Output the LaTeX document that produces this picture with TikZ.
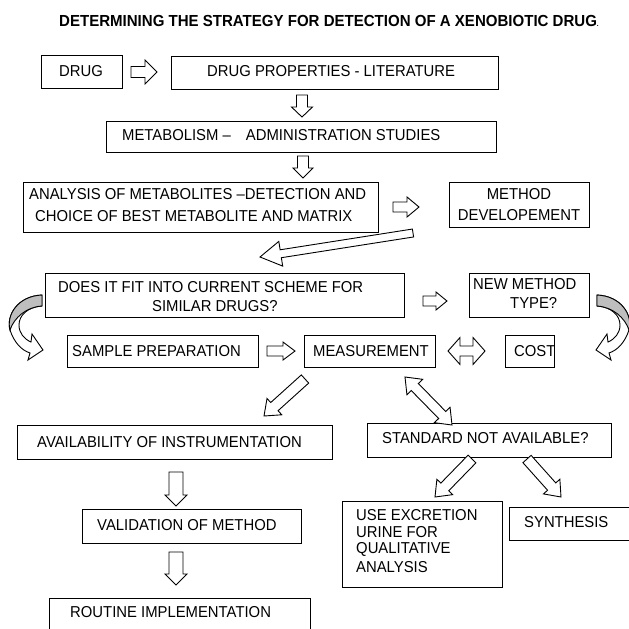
\documentclass[tikz,border=0pt]{standalone}
\usepackage{graphicx}
\usepackage{fontspec}
\setmainfont{Liberation Sans}
\usetikzlibrary{calc,fit}
\definecolor{bandgray}{RGB}{190,190,190}
\newcommand{\T}[1]{\scalebox{0.94}[1]{#1}}
\tikzset{
  box/.style={draw=black, line width=1pt, fill=white, inner sep=0pt, rectangle},
  txt/.style={inner sep=0pt, anchor=west, font=\fontsize{15.8}{18}\selectfont},
  barrow/.style={draw=black, line width=0.9pt, fill=white, line join=miter},
  titletxt/.style={inner sep=0pt, anchor=center, font=\bfseries\fontsize{16}{19}\selectfont},
}
\newcommand{\boxat}[5]{%
  \coordinate (#1-nw) at (#2,#3);
  \coordinate (#1-se) at (#4,#5);
  \node[box, fit=(#1-nw)(#1-se)] (#1) {};}
\newcommand{\blockarrow}[5]{%
  \coordinate (hb) at ($(#2)!#5!(#1)$);
  \draw[barrow] ($(#1)!#3!90:(#2)$) -- ($(hb)!#3!-90:(#1)$) -- ($(hb)!#4!-90:(#1)$) -- (#2)
    -- ($(hb)!#4!90:(#1)$) -- ($(hb)!#3!90:(#1)$) -- ($(#1)!#3!-90:(#2)$) -- cycle;}
\newcommand{\dblarrow}[5]{%
  \coordinate (ha) at ($(#1)!#5!(#2)$);
  \coordinate (hb) at ($(#2)!#5!(#1)$);
  \draw[barrow] (#1) -- ($(ha)!#4!90:(#2)$) -- ($(ha)!#3!90:(#2)$) -- ($(hb)!#3!-90:(#1)$)
    -- ($(hb)!#4!-90:(#1)$) -- (#2) -- ($(hb)!#4!90:(#1)$) -- ($(hb)!#3!90:(#1)$)
    -- ($(ha)!#3!-90:(#2)$) -- ($(ha)!#4!-90:(#2)$) -- cycle;}
\newcommand{\curvedarrow}{%
  \draw[barrow] (42,295) .. controls (18,296) and (6,315) .. (10,330)
     .. controls (14,342) and (21,350) .. (30,353)
     -- (28,360) -- (43,350) -- (32,334) -- (31,342)
     .. controls (24,339) and (19,333) .. (19,325)
     .. controls (19,315) and (28,307) .. (42,306) -- cycle;
  \draw[barrow, fill=bandgray] (42,295) .. controls (18,296) and (6,315) .. (10,330)
     .. controls (14,318) and (26,307) .. (42,306) -- cycle;}
\begin{document}
\begin{tikzpicture}[x=1pt,y=-1pt]
\useasboundingbox (0,0) rectangle (629,629);
\clip (0,0) rectangle (629,629);
\fill[white] (0,0) rectangle (629,629);

\node[titletxt] (title) at (329,21) {\T{DETERMINING THE STRATEGY FOR DETECTION OF A XENOBIOTIC DRUG{\fontsize{7}{7}\selectfont.}}};

% boxes
\boxat{drug}{41}{55}{122}{88}
\boxat{props}{171}{56}{498}{89}
\boxat{metab}{106}{121}{496}{152}
\boxat{analysis}{23}{182}{378}{232}
\boxat{methdev}{449}{182}{589}{227}
\boxat{fits}{45}{273}{404}{317}
\boxat{newmeth}{469}{273}{589}{317}
\boxat{sample}{67}{335}{258}{367}
\boxat{meas}{304}{335}{435}{367}
\boxat{cost}{505}{335}{554}{367}
\boxat{avail}{17}{425}{332}{459}
\boxat{standard}{367}{423}{611}{457}
\boxat{valid}{82}{509}{301}{543}
\boxat{use}{342}{501}{502}{587}
\boxat{synth}{509}{507}{640}{540}
\boxat{routine}{49}{598}{310}{640}

% texts
\node[txt] (drug-t) at (59,71) {\T{DRUG}};
\node[txt] (props-t) at (207,71) {\T{DRUG PROPERTIES - LITERATURE}};
\node[txt] (metab-t) at (122,135) {\T{METABOLISM –\hspace{16pt}ADMINISTRATION STUDIES}};
\node[txt] (analysis-t1) at (29,194) {\T{ANALYSIS OF METABOLITES –DETECTION AND}};
\node[txt] (analysis-t2) at (35,216) {\T{CHOICE OF BEST METABOLITE AND MATRIX}};
\node[txt, anchor=center] (methdev-t1) at (519,194) {\T{METHOD}};
\node[txt, anchor=center] (methdev-t2) at (519,215) {\T{DEVELOPEMENT}};
\node[txt] (fits-t1) at (58,287) {\T{DOES IT FIT INTO CURRENT SCHEME FOR}};
\node[txt] (fits-t2) at (152,306) {\T{SIMILAR DRUGS?}};
\node[txt] (newmeth-t1) at (473,284) {\T{NEW METHOD}};
\node[txt] (newmeth-t2) at (510,303) {\T{TYPE?}};
\node[txt] (sample-t) at (72,351) {\T{SAMPLE PREPARATION}};
\node[txt] (meas-t) at (313,351) {\T{MEASUREMENT}};
\node[txt] (cost-t) at (514,351) {\T{COST}};
\node[txt] (avail-t) at (37,442) {\T{AVAILABILITY OF INSTRUMENTATION}};
\node[txt] (standard-t) at (382,438) {\T{STANDARD NOT AVAILABLE?}};
\node[txt] (valid-t) at (97,525) {\T{VALIDATION OF METHOD}};
\node[txt] (use-t1) at (356,515) {\T{USE EXCRETION}};
\node[txt] (use-t2) at (356,532) {\T{URINE FOR}};
\node[txt] (use-t3) at (356,549) {\T{QUALITATIVE}};
\node[txt] (use-t4) at (356,567) {\T{ANALYSIS}};
\node[txt] (synth-t) at (524,522) {\T{SYNTHESIS}};
\node[txt] (routine-t) at (70,612) {\T{ROUTINE IMPLEMENTATION}};

% arrow end points
\coordinate (a1s) at (131,72);  \coordinate (a1e) at (157,72);
\coordinate (a2s) at (302,95);  \coordinate (a2e) at (302,117);
\coordinate (a3s) at (303,156); \coordinate (a3e) at (303,178);
\coordinate (a4s) at (393,207); \coordinate (a4e) at (419,207);
\coordinate (a5s) at (413,233); \coordinate (a5e) at (260,257);
\coordinate (a6s) at (423,301); \coordinate (a6e) at (447,301);
\coordinate (a7s) at (267,351); \coordinate (a7e) at (295,351);
\coordinate (a8s) at (448,351); \coordinate (a8e) at (485,351);
\coordinate (a9s) at (305,379); \coordinate (a9e) at (264,416);
\coordinate (a10s) at (405,377); \coordinate (a10e) at (452,425);
\coordinate (a11s) at (176,472); \coordinate (a11e) at (176,506);
\coordinate (a12s) at (176,552); \coordinate (a12e) at (176,585);
\coordinate (a13s) at (472,459); \coordinate (a13e) at (435,497);
\coordinate (a14s) at (527,459); \coordinate (a14e) at (561,497);

\blockarrow{a1s}{a1e}{5.5pt}{12pt}{12pt}
\blockarrow{a2s}{a2e}{5.5pt}{10.5pt}{10pt}
\blockarrow{a3s}{a3e}{5.5pt}{10pt}{10pt}
\blockarrow{a4s}{a4e}{5pt}{10pt}{12pt}
\blockarrow{a5s}{a5e}{4pt}{12.5pt}{21pt}
\blockarrow{a6s}{a6e}{5pt}{9pt}{11pt}
\blockarrow{a7s}{a7e}{5pt}{9pt}{12pt}
\dblarrow{a8s}{a8e}{5pt}{13.5pt}{12pt}
\blockarrow{a9s}{a9e}{5.5pt}{11pt}{14pt}
\dblarrow{a10s}{a10e}{5pt}{11pt}{14pt}
\blockarrow{a11s}{a11e}{7pt}{11pt}{11pt}
\blockarrow{a12s}{a12e}{7pt}{11pt}{11pt}
\blockarrow{a13s}{a13e}{5.5pt}{11pt}{14pt}
\blockarrow{a14s}{a14e}{5.5pt}{11pt}{14pt}

% curved arrows
\curvedarrow
\begin{scope}[shift={(639,0)}, xscale=-1]
\curvedarrow
\end{scope}
\end{tikzpicture}
\end{document}
